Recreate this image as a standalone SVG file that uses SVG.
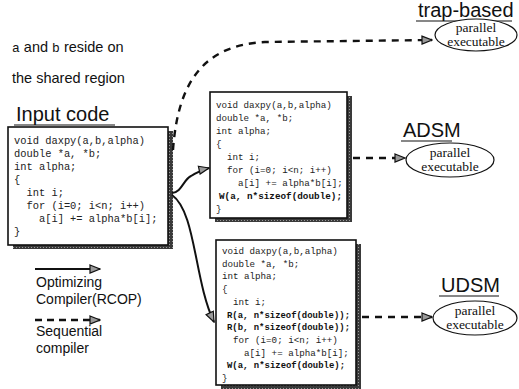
<svg xmlns="http://www.w3.org/2000/svg" width="519" height="389" viewBox="0 0 519 389">
  <defs>
    <pattern id="grain" width="3" height="3" patternUnits="userSpaceOnUse">
      <rect width="3" height="3" fill="#3a3a3a"/>
      <rect x="1" y="1" width="1" height="1" fill="#9a9a9a"/>
    </pattern>
    <marker id="head" viewBox="0 0 12 10" refX="11" refY="5" markerWidth="12" markerHeight="10" markerUnits="userSpaceOnUse" orient="auto">
      <path d="M1,1 L11,5 L1,9 Z" fill="#9a9a9a" stroke="#111" stroke-width="1.2"/>
    </marker>
    <style>
      .box { fill: #fff; stroke: #111; stroke-width: 1.6; }
      .shadow { fill: url(#grain); }
      .code { font-family: "Liberation Mono", "DejaVu Sans Mono", monospace; fill: #222; }
      .code text { white-space: pre; }
      .bold { font-weight: bold; fill: #111; }
      .label { font-family: "Liberation Sans", Arial, sans-serif; fill: #111; }
      .title { font-family: "Liberation Sans", Arial, sans-serif; font-size: 20px; fill: #111; }
      .ul { stroke: #111; stroke-width: 1.2; }
      .ell { fill: #fff; stroke: #111; stroke-width: 1.2; }
      .ellt { font-family: "Liberation Serif", "Times New Roman", serif; font-size: 13.5px; fill: #111; text-anchor: middle; }
      .solid { fill: none; stroke: #111; stroke-width: 2; marker-end: url(#head); }
      .dash { fill: none; stroke: #111; stroke-width: 2.4; stroke-dasharray: 7 6; marker-end: url(#head); }
    </style>
  </defs>

  <!-- note about the arrays -->
  <g id="note" class="label" font-size="14.5">
    <text x="12" y="52"><tspan font-family="Liberation Mono, monospace" font-size="13">a</tspan> and <tspan font-family="Liberation Mono, monospace" font-size="13">b</tspan> reside on</text>
    <text x="12" y="83">the shared region</text>
  </g>

  <!-- input source -->
  <g id="input">
    <text class="title" x="16" y="121" font-size="21">Input code</text>
    <line class="ul" x1="14" y1="125" x2="115" y2="125"/>
    <rect class="shadow" x="13" y="131" width="160" height="118"/>
    <rect class="box" x="8" y="127" width="160" height="118"/>
    <g class="code" font-size="10.4" xml:space="preserve">
      <text x="14" y="144">void daxpy(a,b,alpha)</text>
      <text x="14" y="157">double *a, *b;</text>
      <text x="14" y="170">int alpha;</text>
      <text x="14" y="183">{</text>
      <text x="14" y="196">  int i;</text>
      <text x="14" y="209">  for (i=0; i&lt;n; i++)</text>
      <text x="14" y="222">    a[i] += alpha*b[i];</text>
      <text x="14" y="235">}</text>
    </g>
  </g>

  <!-- ADSM code -->
  <g id="adsm-code">
    <rect class="shadow" x="215" y="96" width="137" height="126"/>
    <rect class="box" x="210" y="92" width="137" height="126"/>
    <g class="code" font-size="9.2" xml:space="preserve">
      <text x="216" y="108">void daxpy(a,b,alpha)</text>
      <text x="216" y="121">double *a, *b;</text>
      <text x="216" y="134">int alpha;</text>
      <text x="216" y="147">{</text>
      <text x="216" y="160">  int i;</text>
      <text x="216" y="173">  for (i=0; i&lt;n; i++)</text>
      <text x="216" y="186">    a[i] += alpha*b[i];</text>
      <text x="219" y="199" class="bold" textLength="123" lengthAdjust="spacingAndGlyphs">W(a, n*sizeof(double);</text>
      <text x="216" y="212">}</text>
    </g>
  </g>

  <!-- UDSM code -->
  <g id="udsm-code">
    <rect class="shadow" x="221" y="244" width="140" height="145"/>
    <rect class="box" x="216" y="240" width="140" height="145"/>
    <g class="code" font-size="9.2" xml:space="preserve">
      <text x="222" y="254">void daxpy(a,b,alpha)</text>
      <text x="222" y="266.7">double *a, *b;</text>
      <text x="222" y="279.4">int alpha;</text>
      <text x="222" y="292.1">{</text>
      <text x="222" y="304.8">  int i;</text>
      <text x="227" y="317.5" class="bold" textLength="123" lengthAdjust="spacingAndGlyphs">R(a, n*sizeof(double));</text>
      <text x="227" y="330.2" class="bold" textLength="123" lengthAdjust="spacingAndGlyphs">R(b, n*sizeof(double));</text>
      <text x="222" y="342.9">  for (i=0; i&lt;n; i++)</text>
      <text x="222" y="355.6">    a[i] += alpha*b[i];</text>
      <text x="227" y="368.3" class="bold" textLength="118" lengthAdjust="spacingAndGlyphs">W(a, n*sizeof(double);</text>
      <text x="222" y="381">}</text>
    </g>
  </g>

  <!-- executables -->
  <g id="trap">
    <text class="title" x="418" y="17">trap-based</text>
    <line class="ul" x1="416" y1="21" x2="512" y2="21"/>
    <ellipse class="ell" cx="476" cy="35" rx="41" ry="16"/>
    <text class="ellt" x="476" y="32">parallel</text>
    <text class="ellt" x="476" y="46">executable</text>
  </g>
  <g id="adsm">
    <text class="title" x="403" y="137">ADSM</text>
    <line class="ul" x1="401" y1="141" x2="452" y2="141"/>
    <ellipse class="ell" cx="450" cy="160" rx="44" ry="17"/>
    <text class="ellt" x="450" y="157">parallel</text>
    <text class="ellt" x="450" y="171">executable</text>
  </g>
  <g id="udsm">
    <text class="title" x="441" y="292">UDSM</text>
    <line class="ul" x1="439" y1="296" x2="499" y2="296"/>
    <ellipse class="ell" cx="475" cy="318" rx="42" ry="17"/>
    <text class="ellt" x="475" y="315">parallel</text>
    <text class="ellt" x="475" y="329">executable</text>
  </g>

  <!-- legend -->
  <g id="legend" class="label" font-size="14">
    <line x1="35" y1="269" x2="100" y2="269" stroke="#111" stroke-width="2" marker-end="url(#head)"/>
    <text x="36" y="287">Optimizing</text>
    <text x="36" y="304">Compiler(RCOP)</text>
    <line x1="35" y1="320" x2="100" y2="320" stroke="#111" stroke-width="2.4" stroke-dasharray="7 5" marker-end="url(#head)"/>
    <text x="36" y="336">Sequential</text>
    <text x="36" y="353">compiler</text>
  </g>

  <!-- compilation paths -->
  <g id="connectors">
    <path class="dash" d="M173,150 C178,80 205,45 265,42 L432,40"/>
    <path class="solid" d="M172,193 C182,192 183,180 191,176 C198,172 200,170 209,168"/>
    <path class="solid" d="M172,195 C196,212 194,280 214,322"/>
    <path class="dash" d="M353,158 L405,158"/>
    <path class="dash" d="M362,317 L432,317"/>
  </g>
</svg>
